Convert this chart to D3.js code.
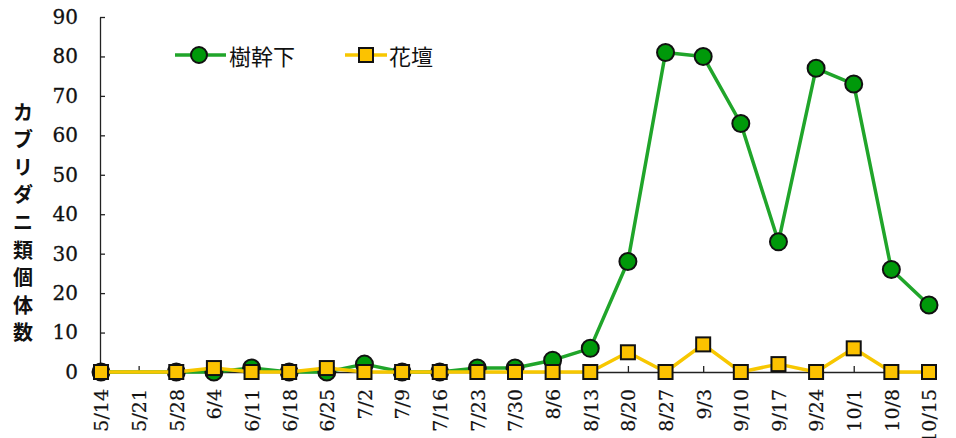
<!DOCTYPE html>
<html>
<head>
<meta charset="utf-8">
<script src="https://cdn.jsdelivr.net/npm/d3@7"></script>
<style>
  html, body { margin: 0; padding: 0; background: #fff; }
  svg { display: block; }
</style>
</head>
<body>
<svg id="chart" width="956" height="438"></svg>
<script>
// Survey dates (weekly)
const dates = ["5/14","5/21","5/28","6/4","6/11","6/18","6/25","7/2","7/9","7/16","7/23","7/30",
               "8/6","8/13","8/20","8/27","9/3","9/10","9/17","9/24","10/1","10/8","10/15"];
// Phytoseiid mite counts; null = no survey that week
const trunkBase = [0,null,0,0,1,0,0,2,0,0,1,1,3,6,28,81,80,63,33,77,73,26,17];
const flowerBed = [0,null,0,1,0,0,1,0,0,0,0,0,0,0,5,0,7,0,2,0,6,0,0];
const yTicks = [0,10,20,30,40,50,60,70,80,90];
const seriesNames = ["樹幹下","花壇"];

const svg = d3.select("#chart");
const plotLeft = 100, plotRight = 929, plotTop = 17, plotBottom = 372;

const x = d3.scalePoint().domain(dates).range([plotLeft + 1, plotRight]);
const y = d3.scaleLinear().domain([0, 90]).range([plotBottom, plotTop]);

const serif = "'DejaVu Serif', 'Liberation Serif', serif";

// Y axis: ticks point inward
const yAxis = svg.append("g")
  .attr("transform", `translate(${plotLeft},0)`)
  .call(d3.axisLeft(y).tickValues(yTicks).tickSize(-5).tickPadding(22).tickSizeOuter(0));
yAxis.select(".domain").attr("stroke", "#222").attr("stroke-width", 1.3);
yAxis.selectAll(".tick line").attr("stroke", "#222").attr("stroke-width", 1.3);
yAxis.selectAll("text")
  .attr("font-family", serif).attr("font-size", 20)
  .attr("fill", "#111").attr("stroke", "#111").attr("stroke-width", 0.3);

// X axis: small ticks pointing up, labels rotated
const xAxis = svg.append("g")
  .attr("transform", `translate(0,${plotBottom})`)
  .call(d3.axisBottom(x).tickSize(-6).tickSizeOuter(0).tickPadding(0));
xAxis.select(".domain").attr("stroke", "#222").attr("stroke-width", 1.3);
xAxis.selectAll(".tick line").attr("stroke", "#222").attr("stroke-width", 1.3);
xAxis.selectAll("text")
  .attr("font-family", serif).attr("font-size", 19).attr("fill", "#111")
  .attr("stroke", "#111").attr("stroke-width", 0.2)
  .attr("transform", "rotate(-90)")
  .attr("text-anchor", "end")
  .attr("x", -17).attr("y", 0).attr("dy", "0.36em");

// Y axis title, characters stacked vertically
const yTitle = "カブリダニ類個体数";
svg.append("g").selectAll("text")
  .data(Array.from(yTitle))
  .join("text")
  .attr("x", 23)
  .attr("y", (d, i) => 111 + i * 27.6)
  .attr("text-anchor", "middle")
  .attr("dominant-baseline", "central")
  .attr("font-family", "'Noto Sans CJK JP', sans-serif")
  .attr("font-weight", "bold")
  .attr("font-size", 20)
  .attr("fill", "#111")
  .text(d => d);

const line = d3.line()
  .x(d => x(d.date))
  .y(d => y(d.v));

function points(values) {
  return dates.map((date, i) => ({ date, v: values[i] })).filter(d => d.v !== null);
}

const green = { line: "#20a52a", fill: "#00990a" };
const yellow = { line: "#f7c700", fill: "#fcc200" };

// 樹幹下 series (drawn first, beneath)
const gPts = points(trunkBase);
svg.append("path").datum(gPts)
  .attr("d", line).attr("fill", "none")
  .attr("stroke", green.line).attr("stroke-width", 3.5).attr("stroke-linejoin", "round");
svg.append("g").selectAll("circle").data(gPts).join("circle")
  .attr("cx", d => x(d.date)).attr("cy", d => y(d.v)).attr("r", 8.5)
  .attr("fill", green.fill).attr("stroke", "#111").attr("stroke-width", 2);

// 花壇 series
const fPts = points(flowerBed);
svg.append("path").datum(fPts)
  .attr("d", line).attr("fill", "none")
  .attr("stroke", yellow.line).attr("stroke-width", 3.5).attr("stroke-linejoin", "round");
svg.append("g").selectAll("rect").data(fPts).join("rect")
  .attr("x", d => x(d.date) - 7).attr("y", d => y(d.v) - 7)
  .attr("width", 14).attr("height", 14)
  .attr("fill", yellow.fill).attr("stroke", "#111").attr("stroke-width", 2);

// Legend
const legend = svg.append("g").attr("font-family", "'Noto Sans CJK JP', sans-serif");
const lg1 = legend.append("g").attr("transform", "translate(0,55)");
lg1.append("line").attr("x1", 175).attr("x2", 226).attr("y1", 0).attr("y2", 0)
  .attr("stroke", green.line).attr("stroke-width", 3.5);
lg1.append("circle").attr("cx", 199).attr("cy", 0).attr("r", 8)
  .attr("fill", green.fill).attr("stroke", "#111").attr("stroke-width", 2);
lg1.append("text").attr("x", 229).attr("y", 0).attr("dominant-baseline", "central")
  .attr("font-size", 22).attr("fill", "#111").text(seriesNames[0]);

const lg2 = legend.append("g").attr("transform", "translate(0,55)");
lg2.append("line").attr("x1", 345).attr("x2", 387).attr("y1", 0).attr("y2", 0)
  .attr("stroke", yellow.line).attr("stroke-width", 3.5);
lg2.append("rect").attr("x", 359).attr("y", -7).attr("width", 14).attr("height", 14)
  .attr("fill", yellow.fill).attr("stroke", "#111").attr("stroke-width", 2);
lg2.append("text").attr("x", 389).attr("y", 0).attr("dominant-baseline", "central")
  .attr("font-size", 22).attr("fill", "#111").text(seriesNames[1]);
</script>
</body>
</html>
